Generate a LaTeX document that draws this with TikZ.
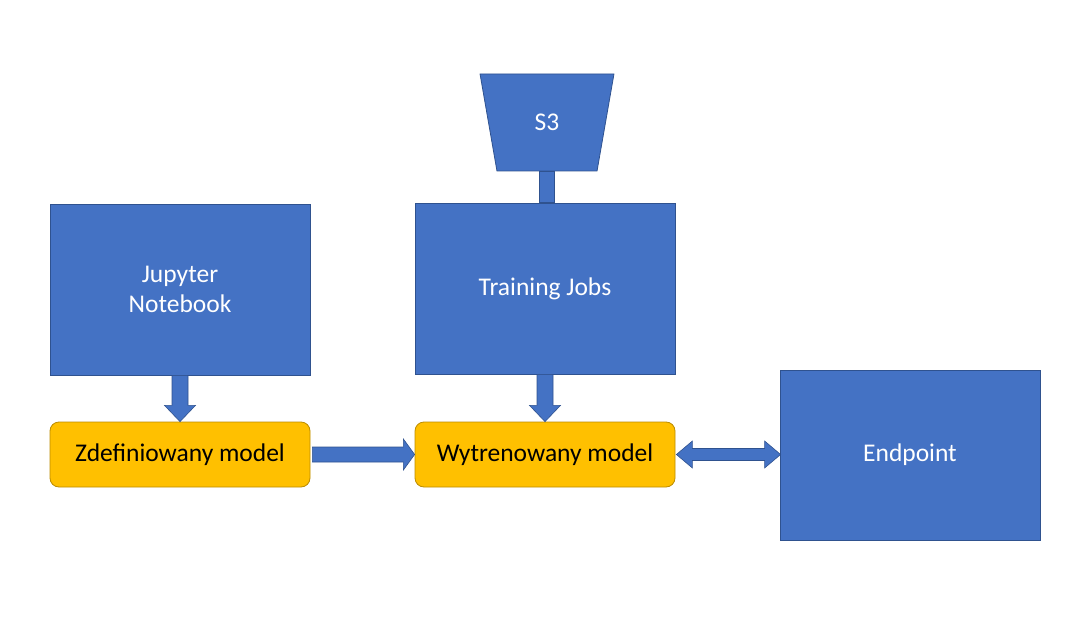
\documentclass[tikz,border=0pt]{standalone}
\usepackage{fontspec}
\setmainfont{Carlito}
\usetikzlibrary{shapes.geometric,arrows.meta}
\definecolor{bfill}{HTML}{4472C4}
\definecolor{bdraw}{HTML}{2F528F}
\definecolor{yfill}{HTML}{FFC000}
\definecolor{ydraw}{HTML}{BC8C00}
\tikzset{
  bluebox/.style={draw=bdraw, fill=bfill, line width=0.8pt, text=white, minimum width=260pt, align=center, inner sep=0pt, font=\fontsize{25.5}{30}\selectfont},
  yellowbox/.style={draw=ydraw, fill=yfill, line width=0.8pt, rounded corners=9pt, minimum width=260pt, minimum height=65pt, inner sep=0pt, text=black, font=\fontsize{25.5}{30}\selectfont},
  blockarrow/.style={draw=bdraw, fill=bfill, line width=0.6pt},
}
\begin{document}
\begin{tikzpicture}[x=1pt,y=-1pt]
\useasboundingbox (0,0) rectangle (1091,636);
\node[bluebox, minimum height=171pt] (jup) at (180,289.5) {Jupyter\\Notebook};
\node[bluebox, minimum height=171pt] (train) at (545,288.5) {Training Jobs};
\node[bluebox, minimum height=170pt] (endp) at (910,455) {Endpoint};
\node[yellowbox] (zdef) at (180,454.5) {Zdefiniowany model};
\node[yellowbox] (wytr) at (545,454.5) {Wytrenowany model};
\node[trapezium, shape border rotate=180, trapezium stretches=true, draw=bdraw, fill=bfill, line width=0.8pt, minimum width=134pt, minimum height=97pt, trapezium left angle=76, trapezium right angle=76, text=white, font=\fontsize{25.5}{30}\selectfont, inner sep=0pt] (s3) at (547,122.5) {S3};
% S3 connector
\draw[blockarrow] ([xshift=-7.5pt]s3.south) rectangle ([xshift=7.5pt]train.north -| s3.south);
% arrow jupyter -> zdef
\draw[blockarrow] ([xshift=-8pt]jup.south) -- ([xshift=-8pt,yshift=-30pt]jup.south) -- ([xshift=-15.5pt,yshift=-30pt]jup.south) -- (zdef.north) -- ([xshift=15.5pt,yshift=-30pt]jup.south) -- ([xshift=8pt,yshift=-30pt]jup.south) -- ([xshift=8pt]jup.south) -- cycle;
% arrow train -> wytr
\draw[blockarrow] ([xshift=-8pt]train.south) -- ([xshift=-8pt,yshift=-31pt]train.south) -- ([xshift=-15.5pt,yshift=-31pt]train.south) -- (wytr.north) -- ([xshift=15.5pt,yshift=-31pt]train.south) -- ([xshift=8pt,yshift=-31pt]train.south) -- ([xshift=8pt]train.south) -- cycle;
% arrow zdef -> wytr
\coordinate (za) at ([xshift=2pt]zdef.east);
\draw[blockarrow] ([yshift=-7.5pt]za) -- ([xshift=91pt,yshift=-7.5pt]za) -- ([xshift=91pt,yshift=-15.5pt]za) -- (wytr.west) -- ([xshift=91pt,yshift=15.5pt]za) -- ([xshift=91pt,yshift=7.5pt]za) -- ([yshift=7.5pt]za) -- cycle;
% double arrow wytr <-> endp
\coordinate (da) at ([xshift=1pt]wytr.east);
\coordinate (db) at ([xshift=1pt]endp.west |- wytr.east);
\draw[blockarrow] (da) -- ([xshift=16pt,yshift=-13.5pt]da) -- ([xshift=16pt,yshift=-6pt]da) -- ([xshift=-16pt,yshift=-6pt]db) -- ([xshift=-16pt,yshift=-13.5pt]db) -- (db) -- ([xshift=-16pt,yshift=13.5pt]db) -- ([xshift=-16pt,yshift=6pt]db) -- ([xshift=16pt,yshift=6pt]da) -- ([xshift=16pt,yshift=13.5pt]da) -- cycle;
\end{tikzpicture}
\end{document}
